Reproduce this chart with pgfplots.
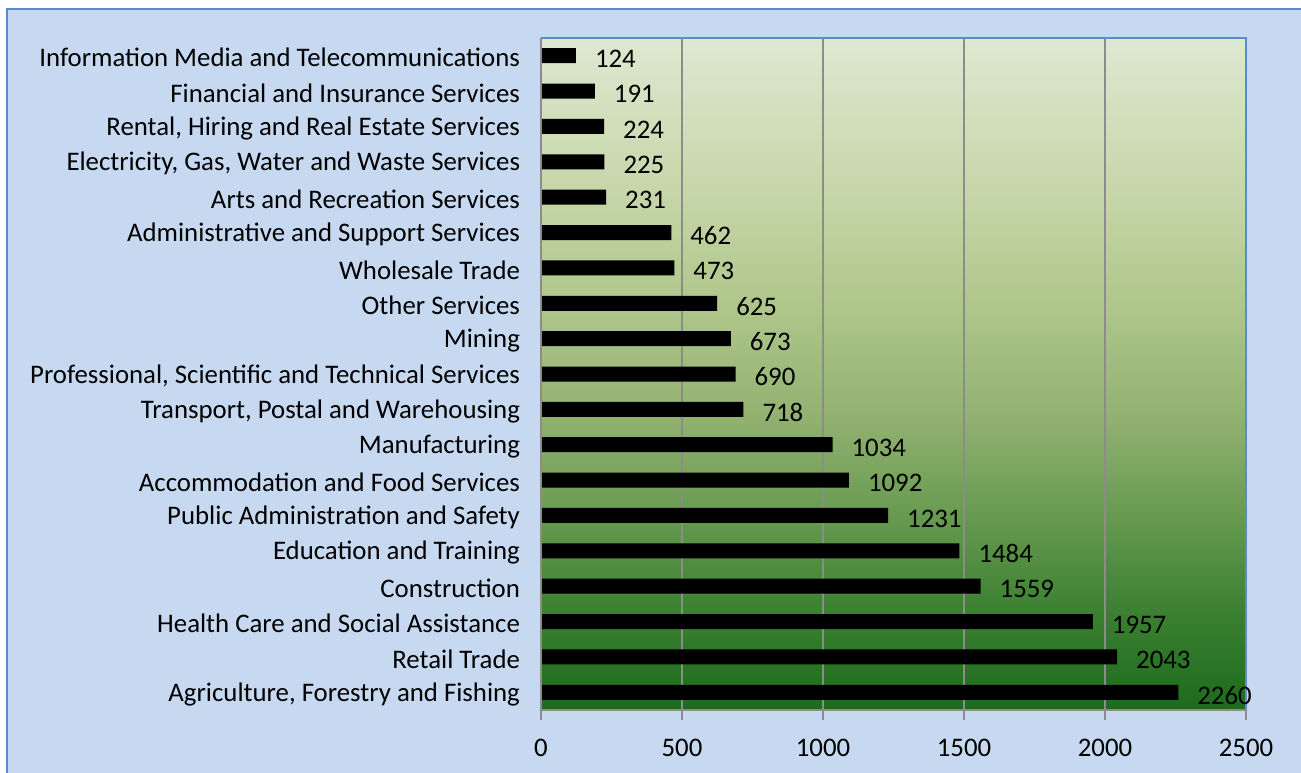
\documentclass[border=0pt]{standalone}
\usepackage{pgfplots}
\pgfplotsset{compat=1.18}
\usepackage{fontspec}
\setmainfont{Carlito}

\definecolor{outerbg}{HTML}{C6D9F0}
\definecolor{frameblue}{HTML}{5B8BC9}
\definecolor{gridgray}{HTML}{8C8C8C}
\definecolor{g0}{HTML}{1C6B1C}
\definecolor{g1}{HTML}{3A7F30}
\definecolor{g2}{HTML}{6A9C52}
\definecolor{g3}{HTML}{93B272}
\definecolor{g4}{HTML}{AFC68A}
\definecolor{g5}{HTML}{C9D9AE}
\definecolor{g6}{HTML}{DEE8D1}
\pgfdeclareverticalshading{plotbg}{100bp}{color(0bp)=(g0); color(25bp)=(g0); color(32bp)=(g1); color(40bp)=(g2); color(47bp)=(g3); color(55bp)=(g4); color(65bp)=(g5); color(75bp)=(g6); color(100bp)=(g6)}

\pgfplotstableread[col sep=comma]{
pos,value
0,2260
1,2043
2,1957
3,1559
4,1484
5,1231
6,1092
7,1034
8,718
9,690
10,673
11,625
12,473
13,462
14,231
15,225
16,224
17,191
18,124
}\industries

\begin{document}
\begin{tikzpicture}
\path[use as bounding box] (0,0) rectangle (650.5pt,386pt);
\fill[outerbg] (3.5pt,-2pt) rectangle (652pt,381.5pt);
\draw[frameblue, line width=1pt] (3.5pt,-2pt) -- (3.5pt,381.5pt) -- (652pt,381.5pt);
\begin{axis}[
  at={(270.5pt,31pt)}, anchor=south west,
  width=352.5pt, height=336pt, scale only axis,
  xbar, bar width=7.5pt,
  xmin=0, xmax=2500, ymin=-0.5, ymax=18.5,
  xtick={0,500,...,2500},
  ytick={0,...,18},
  yticklabels={Agriculture{,} Forestry and Fishing, Retail Trade, Health Care and Social Assistance, Construction, Education and Training, Public Administration and Safety, Accommodation and Food Services, Manufacturing, {Transport, Postal and Warehousing}, {Professional, Scientific and Technical Services}, Mining, Other Services, Wholesale Trade, Administrative and Support Services, Arts and Recreation Services, {Electricity, Gas, Water and Waste Services}, {Rental, Hiring and Real Estate Services}, Financial and Insurance Services, Information Media and Telecommunications},
  extra y ticks={-0.5,0.5,...,18.5},
  extra y tick labels={},
  extra y tick style={major tick length=5pt, tick style={gridgray, line width=0.8pt}},
  ytick style={draw=none},
  xtick style={gridgray, line width=0.8pt},
  xtick pos=bottom, ytick pos=left,
  tick align=outside, major tick length=5pt,
  xmajorgrids, grid style={gridgray, line width=0.8pt},
  axis line style={draw=none},
  axis background/.style={shading=plotbg},
  yticklabel style={font=\fontsize{13.4}{15}\selectfont, xshift=-2pt, yshift=-1pt},
  xticklabel={\fontsize{13.4}{15}\selectfont\pgfmathprintnumber[assume math mode=true]{\tick}},
  xticklabel style={yshift=-6pt},
  /pgf/number format/assume math mode=true,
  /pgf/number format/1000 sep={},
  nodes near coords,
  every node near coord/.append style={font=\fontsize{13.4}{15}\selectfont, black, xshift=6pt, yshift=-1.5pt},
  clip=false,
]
\addplot[fill=black, draw=none] table[x=value, y=pos] {\industries};
\draw[gridgray, line width=0.8pt] (rel axis cs:0,1) -- (rel axis cs:0,0) -- (rel axis cs:1,0);
\draw[frameblue, line width=1.2pt] (rel axis cs:0,1) -- (rel axis cs:1,1) -- (rel axis cs:1,0);
\end{axis}
\end{tikzpicture}
\end{document}
